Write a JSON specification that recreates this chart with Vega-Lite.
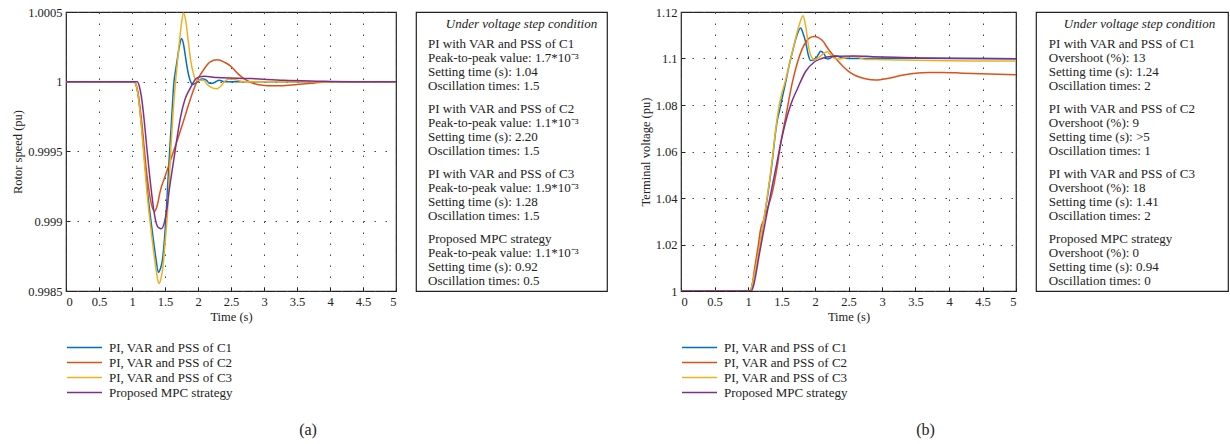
{
"$schema": "https://vega.github.io/schema/vega-lite/v6.json",
"background": "white",
"padding": {"left": 11, "top": 5, "right": 0, "bottom": 0},
"config": {
  "font": "Liberation Serif",
  "view": {"stroke": "#222", "strokeWidth": 1.2},
  "axis": {"labelFont": "Liberation Serif", "labelFontSize": 12.5, "labelColor": "#222", "titleFont": "Liberation Serif", "titleFontSize": 12.5, "titleFontWeight": "normal", "titleColor": "#222", "grid": true, "gridDash": [1.5, 9.5], "gridColor": "#444", "gridOpacity": 1, "gridWidth": 1, "domain": false, "ticks": true, "tickSize": -4, "tickColor": "#222", "labelPadding": 8, "titlePadding": 3},
  "legend": {"labelFont": "Liberation Serif", "labelFontSize": 13, "labelColor": "#222", "symbolStrokeWidth": 1.5, "rowPadding": 1, "labelOffset": 18},
  "title": {"font": "Liberation Serif", "fontWeight": "normal", "color": "#222"}
},
"datasets": {
  "rotor": [
    {"s":"C1","t":0,"v":1},{"s":"C1","t":1.03,"v":1},{"s":"C1","t":1.06,"v":0.99998},{"s":"C1","t":1.09,"v":0.99992},{"s":"C1","t":1.12,"v":0.9998},{"s":"C1","t":1.15,"v":0.99966},{"s":"C1","t":1.18,"v":0.9995},{"s":"C1","t":1.21,"v":0.99934},{"s":"C1","t":1.24,"v":0.99919},{"s":"C1","t":1.28,"v":0.99903},{"s":"C1","t":1.32,"v":0.99888},{"s":"C1","t":1.36,"v":0.99874},{"s":"C1","t":1.4,"v":0.998634},{"s":"C1","t":1.43,"v":0.99866},{"s":"C1","t":1.46,"v":0.99872},{"s":"C1","t":1.49,"v":0.99886},{"s":"C1","t":1.515,"v":0.99903},{"s":"C1","t":1.54,"v":0.99925},{"s":"C1","t":1.57,"v":0.9995},{"s":"C1","t":1.6,"v":0.99973},{"s":"C1","t":1.636,"v":1.0},{"s":"C1","t":1.66,"v":1.00008},{"s":"C1","t":1.686,"v":1.00016},{"s":"C1","t":1.72,"v":1.00026},{"s":"C1","t":1.75,"v":1.00031},{"s":"C1","t":1.78,"v":1.00027},{"s":"C1","t":1.81,"v":1.00018},{"s":"C1","t":1.84,"v":1.00009},{"s":"C1","t":1.88,"v":1.00001},{"s":"C1","t":1.92,"v":0.99998},{"s":"C1","t":1.96,"v":0.99999},{"s":"C1","t":2.0,"v":1.0},{"s":"C1","t":2.05,"v":1.00002},{"s":"C1","t":2.09,"v":1.00002},{"s":"C1","t":2.13,"v":1.00001},{"s":"C1","t":2.17,"v":0.99999},{"s":"C1","t":2.22,"v":0.99999},{"s":"C1","t":2.27,"v":1.0},{"s":"C1","t":2.32,"v":1.00001},{"s":"C1","t":2.4,"v":1.0},{"s":"C1","t":3,"v":1.0},{"s":"C1","t":5,"v":1.0},
    {"s":"C2","t":0,"v":1},{"s":"C2","t":1.03,"v":1},{"s":"C2","t":1.06,"v":0.99998},{"s":"C2","t":1.09,"v":0.99992},{"s":"C2","t":1.12,"v":0.99982},{"s":"C2","t":1.15,"v":0.9997},{"s":"C2","t":1.18,"v":0.99955},{"s":"C2","t":1.21,"v":0.9994},{"s":"C2","t":1.24,"v":0.99928},{"s":"C2","t":1.27,"v":0.99918},{"s":"C2","t":1.3,"v":0.99911},{"s":"C2","t":1.34,"v":0.99907},{"s":"C2","t":1.38,"v":0.99911},{"s":"C2","t":1.43,"v":0.99922},{"s":"C2","t":1.5,"v":0.99932},{"s":"C2","t":1.586,"v":0.99944},{"s":"C2","t":1.636,"v":0.99951},{"s":"C2","t":1.7,"v":0.9996},{"s":"C2","t":1.788,"v":0.99973},{"s":"C2","t":1.86,"v":0.99984},{"s":"C2","t":1.939,"v":0.99995},{"s":"C2","t":2.0,"v":1.00002},{"s":"C2","t":2.09,"v":1.00009},{"s":"C2","t":2.18,"v":1.00014},{"s":"C2","t":2.29,"v":1.000157},{"s":"C2","t":2.4,"v":1.00014},{"s":"C2","t":2.49,"v":1.000114},{"s":"C2","t":2.6,"v":1.00006},{"s":"C2","t":2.7,"v":1.00002},{"s":"C2","t":2.78,"v":1.0},{"s":"C2","t":2.9,"v":0.99998},{"s":"C2","t":3.05,"v":0.999972},{"s":"C2","t":3.25,"v":0.999972},{"s":"C2","t":3.5,"v":0.99998},{"s":"C2","t":3.75,"v":0.99999},{"s":"C2","t":4.0,"v":1.0},{"s":"C2","t":5,"v":1.0},
    {"s":"C3","t":0,"v":1},{"s":"C3","t":1.03,"v":1},{"s":"C3","t":1.06,"v":0.99998},{"s":"C3","t":1.09,"v":0.99991},{"s":"C3","t":1.12,"v":0.99979},{"s":"C3","t":1.15,"v":0.99964},{"s":"C3","t":1.18,"v":0.99947},{"s":"C3","t":1.21,"v":0.9993},{"s":"C3","t":1.24,"v":0.99914},{"s":"C3","t":1.28,"v":0.99897},{"s":"C3","t":1.32,"v":0.99881},{"s":"C3","t":1.36,"v":0.99867},{"s":"C3","t":1.39,"v":0.99858},{"s":"C3","t":1.41,"v":0.998554},{"s":"C3","t":1.44,"v":0.99859},{"s":"C3","t":1.47,"v":0.99868},{"s":"C3","t":1.5,"v":0.99884},{"s":"C3","t":1.535,"v":0.99904},{"s":"C3","t":1.56,"v":0.99925},{"s":"C3","t":1.586,"v":0.9995},{"s":"C3","t":1.62,"v":0.99976},{"s":"C3","t":1.66,"v":1.0},{"s":"C3","t":1.7,"v":1.0002},{"s":"C3","t":1.74,"v":1.00038},{"s":"C3","t":1.778,"v":1.000493},{"s":"C3","t":1.81,"v":1.00045},{"s":"C3","t":1.85,"v":1.0003},{"s":"C3","t":1.89,"v":1.00015},{"s":"C3","t":1.93,"v":1.00006},{"s":"C3","t":1.97,"v":1.00001},{"s":"C3","t":2.02,"v":1.00001},{"s":"C3","t":2.08,"v":1.00001},{"s":"C3","t":2.14,"v":0.99998},{"s":"C3","t":2.2,"v":0.99996},{"s":"C3","t":2.28,"v":0.99995},{"s":"C3","t":2.35,"v":0.99997},{"s":"C3","t":2.42,"v":1.00001},{"s":"C3","t":2.5,"v":1.00002},{"s":"C3","t":2.6,"v":1.00001},{"s":"C3","t":2.7,"v":1.0},{"s":"C3","t":3,"v":1.0},{"s":"C3","t":5,"v":1.0},
    {"s":"MPC","t":0,"v":1},{"s":"MPC","t":1.08,"v":1},{"s":"MPC","t":1.11,"v":0.99997},{"s":"MPC","t":1.14,"v":0.9999},{"s":"MPC","t":1.17,"v":0.99979},{"s":"MPC","t":1.2,"v":0.99965},{"s":"MPC","t":1.23,"v":0.9995},{"s":"MPC","t":1.26,"v":0.99936},{"s":"MPC","t":1.3,"v":0.99919},{"s":"MPC","t":1.34,"v":0.99905},{"s":"MPC","t":1.38,"v":0.99897},{"s":"MPC","t":1.41,"v":0.998952},{"s":"MPC","t":1.444,"v":0.998946},{"s":"MPC","t":1.49,"v":0.99899},{"s":"MPC","t":1.53,"v":0.99909},{"s":"MPC","t":1.56,"v":0.99921},{"s":"MPC","t":1.6,"v":0.99934},{"s":"MPC","t":1.636,"v":0.99945},{"s":"MPC","t":1.69,"v":0.99962},{"s":"MPC","t":1.737,"v":0.99975},{"s":"MPC","t":1.8,"v":0.99987},{"s":"MPC","t":1.889,"v":0.99996},{"s":"MPC","t":1.965,"v":1.00002},{"s":"MPC","t":2.03,"v":1.000035},{"s":"MPC","t":2.09,"v":1.00004},{"s":"MPC","t":2.3,"v":1.00003},{"s":"MPC","t":2.8,"v":1.000023},{"s":"MPC","t":3.3,"v":1.00001},{"s":"MPC","t":3.8,"v":1.000004},{"s":"MPC","t":4.3,"v":1.0},{"s":"MPC","t":5,"v":1.0}
  ],
  "voltage": [
    {"s":"C1","t":0,"v":1},{"s":"C1","t":1.03,"v":1.0},{"s":"C1","t":1.08,"v":1.005},{"s":"C1","t":1.14,"v":1.014},{"s":"C1","t":1.214,"v":1.0265},{"s":"C1","t":1.29,"v":1.0405},{"s":"C1","t":1.363,"v":1.056},{"s":"C1","t":1.41,"v":1.068},{"s":"C1","t":1.438,"v":1.0735},{"s":"C1","t":1.47,"v":1.0775},{"s":"C1","t":1.512,"v":1.0833},{"s":"C1","t":1.56,"v":1.0895},{"s":"C1","t":1.61,"v":1.0965},{"s":"C1","t":1.662,"v":1.1027},{"s":"C1","t":1.72,"v":1.109},{"s":"C1","t":1.786,"v":1.1131},{"s":"C1","t":1.82,"v":1.111},{"s":"C1","t":1.861,"v":1.107},{"s":"C1","t":1.9,"v":1.1015},{"s":"C1","t":1.935,"v":1.0991},{"s":"C1","t":1.97,"v":1.0993},{"s":"C1","t":2.01,"v":1.0998},{"s":"C1","t":2.05,"v":1.1018},{"s":"C1","t":2.085,"v":1.1031},{"s":"C1","t":2.13,"v":1.1022},{"s":"C1","t":2.184,"v":1.0998},{"s":"C1","t":2.23,"v":1.1002},{"s":"C1","t":2.284,"v":1.1012},{"s":"C1","t":2.34,"v":1.101},{"s":"C1","t":2.408,"v":1.1002},{"s":"C1","t":2.5,"v":1.1},{"s":"C1","t":3,"v":1.1001},{"s":"C1","t":4,"v":1.1},{"s":"C1","t":5,"v":1.0999},
    {"s":"C2","t":0,"v":1},{"s":"C2","t":1.04,"v":1.0},{"s":"C2","t":1.1,"v":1.01},{"s":"C2","t":1.15,"v":1.019},{"s":"C2","t":1.189,"v":1.0267},{"s":"C2","t":1.24,"v":1.031},{"s":"C2","t":1.289,"v":1.0353},{"s":"C2","t":1.363,"v":1.0424},{"s":"C2","t":1.438,"v":1.0539},{"s":"C2","t":1.488,"v":1.0635},{"s":"C2","t":1.56,"v":1.0745},{"s":"C2","t":1.662,"v":1.0897},{"s":"C2","t":1.74,"v":1.0985},{"s":"C2","t":1.8,"v":1.1035},{"s":"C2","t":1.861,"v":1.107},{"s":"C2","t":1.92,"v":1.1089},{"s":"C2","t":1.985,"v":1.1095},{"s":"C2","t":2.05,"v":1.109},{"s":"C2","t":2.11,"v":1.1077},{"s":"C2","t":2.2,"v":1.104},{"s":"C2","t":2.36,"v":1.0984},{"s":"C2","t":2.5,"v":1.0945},{"s":"C2","t":2.61,"v":1.0926},{"s":"C2","t":2.75,"v":1.0913},{"s":"C2","t":2.91,"v":1.0907},{"s":"C2","t":3.1,"v":1.0915},{"s":"C2","t":3.3,"v":1.0928},{"s":"C2","t":3.5,"v":1.0937},{"s":"C2","t":3.7,"v":1.094},{"s":"C2","t":3.9,"v":1.094},{"s":"C2","t":4.2,"v":1.0937},{"s":"C2","t":4.6,"v":1.0933},{"s":"C2","t":5,"v":1.093},
    {"s":"C3","t":0,"v":1},{"s":"C3","t":1.03,"v":1.0},{"s":"C3","t":1.08,"v":1.005},{"s":"C3","t":1.14,"v":1.014},{"s":"C3","t":1.214,"v":1.0267},{"s":"C3","t":1.29,"v":1.041},{"s":"C3","t":1.363,"v":1.0568},{"s":"C3","t":1.42,"v":1.071},{"s":"C3","t":1.46,"v":1.079},{"s":"C3","t":1.5,"v":1.0845},{"s":"C3","t":1.55,"v":1.0895},{"s":"C3","t":1.612,"v":1.0969},{"s":"C3","t":1.68,"v":1.105},{"s":"C3","t":1.761,"v":1.1141},{"s":"C3","t":1.821,"v":1.1184},{"s":"C3","t":1.86,"v":1.114},{"s":"C3","t":1.91,"v":1.1041},{"s":"C3","t":1.95,"v":1.1005},{"s":"C3","t":1.985,"v":1.0996},{"s":"C3","t":2.02,"v":1.0998},{"s":"C3","t":2.06,"v":1.1005},{"s":"C3","t":2.12,"v":1.102},{"s":"C3","t":2.184,"v":1.1029},{"s":"C3","t":2.23,"v":1.1017},{"s":"C3","t":2.284,"v":1.1002},{"s":"C3","t":2.36,"v":1.0998},{"s":"C3","t":2.45,"v":1.1003},{"s":"C3","t":2.55,"v":1.101},{"s":"C3","t":2.65,"v":1.1004},{"s":"C3","t":2.75,"v":1.0996},{"s":"C3","t":2.9,"v":1.0996},{"s":"C3","t":3.2,"v":1.0994},{"s":"C3","t":3.5,"v":1.0992},{"s":"C3","t":4,"v":1.099},{"s":"C3","t":5,"v":1.0989},
    {"s":"MPC","t":0,"v":1},{"s":"MPC","t":1.05,"v":1.0},{"s":"MPC","t":1.08,"v":1.002},{"s":"MPC","t":1.114,"v":1.0066},{"s":"MPC","t":1.17,"v":1.016},{"s":"MPC","t":1.239,"v":1.0267},{"s":"MPC","t":1.3,"v":1.036},{"s":"MPC","t":1.363,"v":1.0453},{"s":"MPC","t":1.42,"v":1.0535},{"s":"MPC","t":1.488,"v":1.0635},{"s":"MPC","t":1.56,"v":1.0725},{"s":"MPC","t":1.64,"v":1.0803},{"s":"MPC","t":1.736,"v":1.0869},{"s":"MPC","t":1.86,"v":1.0944},{"s":"MPC","t":1.985,"v":1.0984},{"s":"MPC","t":2.1,"v":1.1},{"s":"MPC","t":2.2,"v":1.1008},{"s":"MPC","t":2.36,"v":1.101},{"s":"MPC","t":2.6,"v":1.1011},{"s":"MPC","t":2.86,"v":1.1008},{"s":"MPC","t":3.2,"v":1.1005},{"s":"MPC","t":3.6,"v":1.1002},{"s":"MPC","t":4,"v":1.1001},{"s":"MPC","t":5,"v":1.0999}
  ],
  "boxA": [
    {"group":"C1","text":"PI with VAR and PSS of C1\nPeak-to-peak value: 1.7*10⁻³\nSetting time (s): 1.04\nOscillation times: 1.5"},
    {"group":"C2","text":"PI with VAR and PSS of C2\nPeak-to-peak value: 1.1*10⁻³\nSetting time (s): 2.20\nOscillation times: 1.5"},
    {"group":"C3","text":"PI with VAR and PSS of C3\nPeak-to-peak value: 1.9*10⁻³\nSetting time (s): 1.28\nOscillation times: 1.5"},
    {"group":"MPC","text":"Proposed MPC strategy\nPeak-to-peak value: 1.1*10⁻³\nSetting time (s): 0.92\nOscillation times: 0.5"}
  ],
  "boxB": [
    {"group":"C1","text":"PI with VAR and PSS of C1\nOvershoot (%): 13\nSetting time (s): 1.24\nOscillation times: 2"},
    {"group":"C2","text":"PI with VAR and PSS of C2\nOvershoot (%): 9\nSetting time (s): >5\nOscillation times: 1"},
    {"group":"C3","text":"PI with VAR and PSS of C3\nOvershoot (%): 18\nSetting time (s): 1.41\nOscillation times: 2"},
    {"group":"MPC","text":"Proposed MPC strategy\nOvershoot (%): 0\nSetting time (s): 0.94\nOscillation times: 0"}
  ]
},
"bounds": "flush",
"spacing": 20,
"resolve": {"scale": {"color": "independent"}, "legend": {"color": "independent"}},
"hconcat": [
  {
    "width": 330, "height": 279,
    "title": {"text": "(a)", "orient": "bottom", "anchor": "middle", "offset": 22, "dx": 77, "fontSize": 16},
    "data": {"name": "rotor"},
    "mark": {"type": "line", "strokeWidth": 1.5, "interpolate": "monotone", "clip": true},
    "encoding": {
      "x": {"field": "t", "type": "quantitative", "scale": {"domain": [0, 5], "nice": false}, "axis": {"title": "Time (s)", "values": [0, 0.5, 1, 1.5, 2, 2.5, 3, 3.5, 4, 4.5, 5], "format": "~g"}},
      "y": {"field": "v", "type": "quantitative", "scale": {"domain": [0.9985, 1.0005], "nice": false, "zero": false}, "axis": {"title": "Rotor speed (pu)", "values": [0.9985, 0.999, 0.9995, 1, 1.0005], "format": "~g", "titlePadding": 3}},
      "color": {"field": "s", "type": "nominal", "scale": {"domain": ["C1", "C2", "C3", "MPC"], "range": ["#0072BD", "#D95319", "#EDB120", "#7E2F8E"]},
        "legend": {"orient": "none", "legendX": 12, "legendY": 329, "title": null, "symbolType": "M-3.5,0H3.5", "symbolSize": 100, "labelExpr": "datum.label == 'MPC' ? 'Proposed MPC strategy' : 'PI, VAR and PSS of ' + datum.label"}}
    }
  },
  {
    "width": 191, "height": 279,
    "title": {"text": "Under voltage step condition", "fontStyle": "italic", "orient": "top", "anchor": "middle", "offset": -19, "dx": 10, "fontSize": 13},
    "data": {"name": "boxA"},
    "mark": {"type": "text", "align": "left", "baseline": "middle", "lineBreak": "\n", "lineHeight": 14, "fontSize": 13, "color": "#222"},
    "encoding": {
      "x": {"datum": 0.063, "type": "quantitative", "scale": {"domain": [0, 1]}, "axis": null},
      "y": {"field": "group", "type": "ordinal", "scale": {"type": "point", "domain": ["C1", "C2", "C3", "MPC"], "padding": 0.646, "align": 0.381}, "axis": null},
      "text": {"field": "text"}
    }
  },
  {
    "width": 34, "height": 279,
    "view": {"stroke": null},
    "data": {"values": [{"text": ""}]},
    "mark": {"type": "text"},
    "encoding": {"text": {"field": "text"}}
  },
  {
    "width": 335, "height": 279,
    "title": {"text": "(b)", "orient": "bottom", "anchor": "middle", "offset": 22, "dx": 77, "fontSize": 16},
    "data": {"name": "voltage"},
    "mark": {"type": "line", "strokeWidth": 1.5, "interpolate": "monotone", "clip": true},
    "encoding": {
      "x": {"field": "t", "type": "quantitative", "scale": {"domain": [0, 5], "nice": false}, "axis": {"title": "Time (s)", "values": [0, 0.5, 1, 1.5, 2, 2.5, 3, 3.5, 4, 4.5, 5], "format": "~g"}},
      "y": {"field": "v", "type": "quantitative", "scale": {"domain": [1, 1.12], "nice": false, "zero": false}, "axis": {"title": "Terminal voltage (pu)", "values": [1, 1.02, 1.04, 1.06, 1.08, 1.1, 1.12], "format": "~g", "titlePadding": 3}},
      "color": {"field": "s", "type": "nominal", "scale": {"domain": ["C1", "C2", "C3", "MPC"], "range": ["#0072BD", "#D95319", "#EDB120", "#7E2F8E"]},
        "legend": {"orient": "none", "legendX": 12, "legendY": 329, "title": null, "symbolType": "M-3.5,0H3.5", "symbolSize": 100, "labelExpr": "datum.label == 'MPC' ? 'Proposed MPC strategy' : 'PI, VAR and PSS of ' + datum.label"}}
    }
  },
  {
    "width": 192, "height": 279,
    "title": {"text": "Under voltage step condition", "fontStyle": "italic", "orient": "top", "anchor": "middle", "offset": -19, "dx": 7.5, "fontSize": 13},
    "data": {"name": "boxB"},
    "mark": {"type": "text", "align": "left", "baseline": "middle", "lineBreak": "\n", "lineHeight": 14, "fontSize": 13, "color": "#222"},
    "encoding": {
      "x": {"datum": 0.067, "type": "quantitative", "scale": {"domain": [0, 1]}, "axis": null},
      "y": {"field": "group", "type": "ordinal", "scale": {"type": "point", "domain": ["C1", "C2", "C3", "MPC"], "padding": 0.646, "align": 0.381}, "axis": null},
      "text": {"field": "text"}
    }
  }
]
}
